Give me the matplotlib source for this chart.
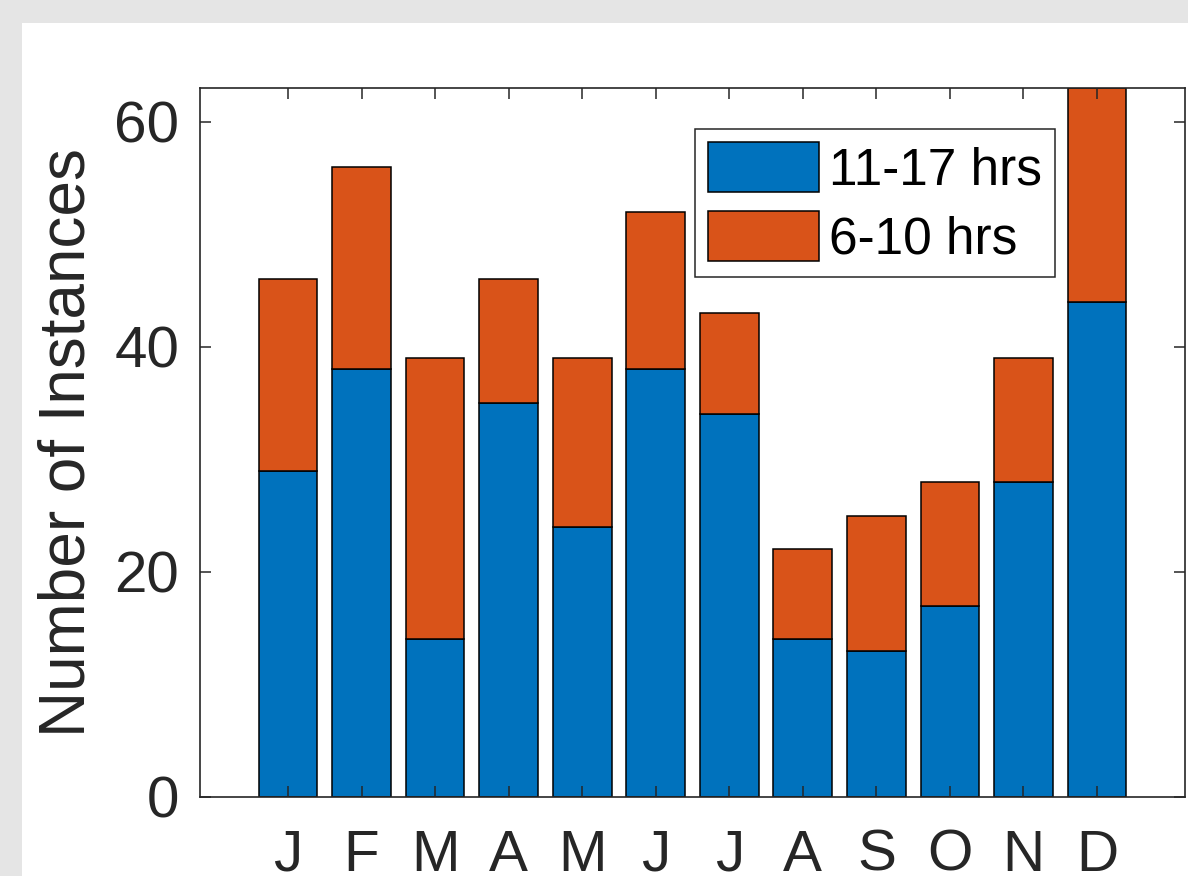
import matplotlib.pyplot as plt
from matplotlib.patches import Rectangle

plt.rcParams['font.family'] = ['Liberation Sans', 'DejaVu Sans']

# data
months = ['J', 'F', 'M', 'A', 'M', 'J', 'J', 'A', 'S', 'O', 'N', 'D']
hrs_11_17 = [29, 38, 14, 35, 24, 38, 34, 14, 13, 17, 28, 44]
hrs_6_10 = [17, 18, 25, 11, 15, 14, 9, 8, 12, 11, 11, 19]

blue = '#0072BD'
orange = '#D95319'
dark = '#262626'

W, H = 1188, 876
fig = plt.figure(figsize=(W / 100, H / 100), dpi=100, facecolor='#e5e5e5')
# white panel (the gray frame only shows at top and left)
fig.patches.append(Rectangle((22 / W, 0), 1, (H - 23) / H, transform=fig.transFigure,
                             facecolor='white', edgecolor='none', zorder=-10))

ax = fig.add_axes([200 / W, (H - 797) / H, (1185 - 200) / W, (797 - 88) / H])
ax.set_facecolor('white')

x = list(range(1, len(months) + 1))
ax.bar(x, hrs_11_17, width=0.8, color=blue, edgecolor='black', linewidth=1.1,
       label='11-17 hrs')
ax.bar(x, hrs_6_10, width=0.8, bottom=hrs_11_17, color=orange, edgecolor='black',
       linewidth=1.1, label='6-10 hrs')

ax.set_xlim(1 - 1.196, 12 + 1.196)
ax.set_ylim(0, 63)
ax.set_xticks(x)
ax.set_xticklabels(months)
ax.set_yticks([0, 20, 40, 60])

ax.tick_params(direction='in', length=7.7, width=1.1, color=dark, labelcolor=dark,
               labelsize=42, top=True, right=True)
ax.tick_params(axis='x', pad=23)
ax.tick_params(axis='y', pad=15)
for s in ax.spines.values():
    s.set_color(dark)
    s.set_linewidth(1.2)

ax.set_ylabel('Number of Instances', fontsize=46, color=dark, labelpad=12)

leg = ax.legend(loc='upper left', bbox_to_anchor=((695 - 200) / 985, (797 - 129) / 709),
                fontsize=37, frameon=True, fancybox=False, framealpha=1,
                borderpad=0.25, handlelength=2.16, handleheight=1.13,
                handletextpad=0.2, labelspacing=0.3, borderaxespad=0)
leg.get_frame().set_edgecolor(dark)
leg.get_frame().set_linewidth(1.1)

fig.savefig('out.png', dpi=100, facecolor=fig.get_facecolor())
